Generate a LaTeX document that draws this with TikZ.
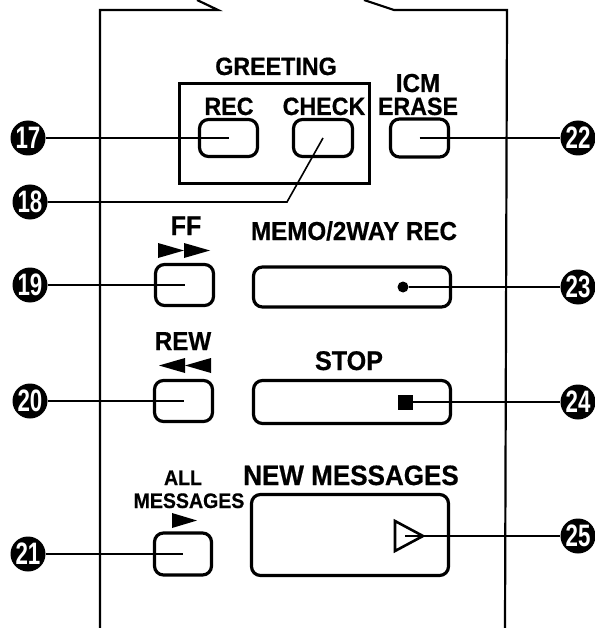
\documentclass[tikz,border=0pt]{standalone}
\usepackage{fontspec}
\setmainfont{Liberation Sans}
\newfontfamily\keyfont[FakeStretch=0.93, FakeBold=0.6]{Liberation Sans Bold}
\newfontfamily\numfont[FakeStretch=0.72]{Liberation Sans Bold}

\begin{document}
\begin{tikzpicture}[
      x=1pt, y=-1pt,
      btn/.style={draw, rounded corners=9pt, line width=3.2pt, inner sep=0pt},
      lbl/.style={inner sep=0pt, anchor=base, font=\keyfont\fontsize{25}{25}\selectfont},
      num/.style={circle, fill=black, text=white, minimum size=35pt, inner sep=0pt,
                  font=\numfont\fontsize{31}{31}\selectfont},
      lead/.style={line width=1.6pt},
      case/.style={line width=2.2pt}]
      \useasboundingbox (0,0) rectangle (594,628);
      % outline of the handset
      \draw[case] (197,0) -- (218,10) -- (100,10) -- (100,628);
      \draw[case] (364,0) -- (394,10) -- (507,10) -- (505,628);
      % greeting group
      \node[draw, line width=3.2pt, minimum width=190pt, minimum height=100pt,
            inner sep=0pt] (greet) at (274.5,133.5) {};
      \node[lbl] at (276,75) {GREETING};
      \node[btn, minimum width=58pt, minimum height=37pt] (rec)   at (228.5,138) {};
      \node[btn, minimum width=59pt, minimum height=37pt] (check) at (323,138) {};
      \node[btn, minimum width=58pt, minimum height=38pt] (erase) at (419.5,138) {};
      \node[lbl] at (229,115) {REC};
      \node[lbl] at (324,115) {CHECK};
      \node[lbl, font=\keyfont\fontsize{26}{26}\selectfont] at (418,92)  {ICM};
      \node[lbl] at (418,115) {ERASE};
      % tape keys, left column
      \node[btn, minimum width=58pt, minimum height=41pt] (ff)     at (184.5,285) {};
      \node[btn, minimum width=58pt, minimum height=41pt] (rew)    at (183.5,401) {};
      \node[btn, minimum width=57pt, minimum height=42pt] (allmsg) at (183,554) {};
      \node[lbl, font=\keyfont\fontsize{27}{27}\selectfont] at (186,235) {FF};
      \node[lbl, font=\keyfont\fontsize{26}{26}\selectfont] at (183,350) {REW};
      \node[lbl, font=\keyfont\fontsize{21}{21}\selectfont] at (183,485) {ALL};
      \node[lbl, font=\keyfont\fontsize{21}{21}\selectfont] at (189,508) {MESSAGES};
      \fill (158,243) -- (184,250.5) -- (158,258) -- cycle;
      \fill (184,243) -- (210,250.5) -- (184,258) -- cycle;
      \fill (185,358) -- (159,365.5) -- (185,373) -- cycle;
      \fill (211,358) -- (185,365.5) -- (211,373) -- cycle;
      \fill (172,513) -- (197,520.5) -- (172,528) -- cycle;
      % wide keys, right column
      \node[btn, minimum width=197pt, minimum height=40pt] (memo)   at (352,287) {};
      \node[btn, minimum width=197pt, minimum height=43pt] (stop)   at (352,402) {};
      \node[btn, minimum width=197pt, minimum height=81pt] (newmsg) at (350,535) {};
      \node[lbl, font=\keyfont\fontsize{26}{26}\selectfont] at (354,240) {MEMO/2WAY REC};
      \node[lbl, font=\keyfont\fontsize{27}{27}\selectfont] at (349,370) {STOP};
      \node[lbl, font=\keyfont\fontsize{28}{28}\selectfont] at (351,485) {NEW MESSAGES};
      \node[circle, fill, minimum size=11pt, inner sep=0pt] (dot) at (403,287) {};
      \node[fill, minimum width=15pt, minimum height=15pt, inner sep=0pt] (sq) at (405,402) {};
      \draw[line width=2.6pt] (395,521) -- (423,536) -- (395,551) -- cycle;
      \coordinate (play) at (405,536);
      % reference numbers
      \node[num] (n17) at (28,138)  {17};
      \node[num] (n18) at (30,202)  {18};
      \node[num] (n19) at (30,285)  {19};
      \node[num] (n20) at (30,401)  {20};
      \node[num] (n21) at (28,554)  {21};
      \node[num] (n22) at (578,138) {22};
      \node[num] (n23) at (578,287) {23};
      \node[num] (n24) at (578,402) {24};
      \node[num] (n25) at (578,536) {25};
      \coordinate (bend18) at (287,202);
      \draw[lead] (n17) -- (rec.center);
      \draw[lead] (n18) -- (bend18) -- (check.center);
      \draw[lead] (erase.center) -- (n22);
      \draw[lead] (n19) -- (ff.center);
      \draw[lead] (dot) -- (n23);
      \draw[lead] (n20) -- (rew.center);
      \draw[lead] (sq) -- (n24);
      \draw[lead] (n21) -- (allmsg.center);
      \draw[lead] (play) -- (n25);
    \end{tikzpicture}
\end{document}
